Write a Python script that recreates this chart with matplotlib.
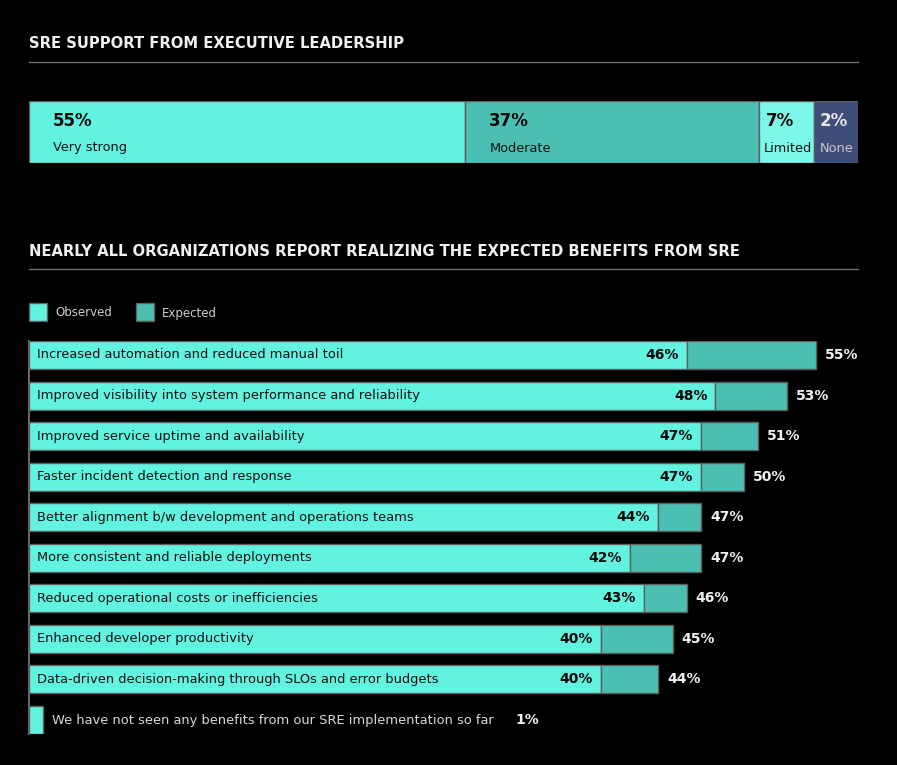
import matplotlib
matplotlib.use("Agg")
import matplotlib.pyplot as plt
from matplotlib.patches import Rectangle

plt.rcParams['font.family'] = ['DejaVu Sans']

# ---------------- data ----------------
support_labels = ["Very strong", "Moderate", "Limited", "None"]
support_values = [55, 37, 7, 2]

benefit_labels = [
    "Increased automation and reduced manual toil",
    "Improved visibility into system performance and reliability",
    "Improved service uptime and availability",
    "Faster incident detection and response",
    "Better alignment b/w development and operations teams",
    "More consistent and reliable deployments",
    "Reduced operational costs or inefficiencies",
    "Enhanced developer productivity",
    "Data-driven decision-making through SLOs and error budgets",
]
observed = [46, 48, 47, 47, 44, 42, 43, 40, 40]
expected = [55, 53, 51, 50, 47, 47, 46, 45, 44]
no_benefit_label = "We have not seen any benefits from our SRE implementation so far"
no_benefit_value = 1

title1 = "SRE SUPPORT FROM EXECUTIVE LEADERSHIP"
title2 = "NEARLY ALL ORGANIZATIONS REPORT REALIZING THE EXPECTED BENEFITS FROM SRE"

# ---------------- style ----------------
W, H = 897, 765
BG = "#000000"
C_OBS = "#62F2E0"
C_EXP = "#4BC0B2"
C_LIM = "#7CF8E8"
C_NONE = "#3E4D79"
EDGE = "#5f5f5f"
TXT = "#f0f0f0"
support_colors = [C_OBS, C_EXP, C_LIM, C_NONE]
support_text = ["#0a0a0a", "#0a0a0a", "#0a0a0a", "#e8e8e8"]
support_sub = ["#111111", "#111111", "#111111", "#c8c8c8"]

fig = plt.figure(figsize=(W / 100, H / 100), dpi=100, facecolor=BG)


def fx(px):
    return px / W


def fy(py):
    return 1 - py / H


# titles & rules
fig.text(fx(29), fy(44), title1, color=TXT, fontsize=10.6, fontweight="bold",
         va="center", ha="left")
fig.add_artist(plt.Line2D([fx(29), fx(858)], [fy(62), fy(62)], color="#707070", lw=1))
fig.text(fx(29), fy(251), title2, color=TXT, fontsize=10.6, fontweight="bold",
         va="center", ha="left")
fig.add_artist(plt.Line2D([fx(29), fx(858)], [fy(269), fy(269)], color="#707070", lw=1))

# ---------------- top stacked bar ----------------
ax1 = fig.add_axes([fx(29), fy(163), fx(858) - fx(29), (163 - 101) / H])
ax1.set_facecolor(BG)
MIN_W = 5.5  # minimum display width so small-segment labels stay legible
disp = [max(v, MIN_W) for v in support_values]
left = 0
for lab, v, d, c, tc, sc in zip(support_labels, support_values, disp,
                                support_colors, support_text, support_sub):
    ax1.barh(0, d, left=left, height=1, color=c, edgecolor=EDGE, linewidth=1)
    pad = 24 if d > 15 else 5
    ax1.annotate(f"{v}%", (left, 0), xytext=(pad + (2 if d > 6 and d <= 15 else 0), 11),
                 textcoords="offset pixels",
                 ha="left", va="center", fontsize=12, fontweight="bold", color=tc)
    ax1.annotate(lab, (left, 0), xytext=(pad, -16), textcoords="offset pixels",
                 ha="left", va="center", fontsize=9.3, color=sc)
    left += d
ax1.set_xlim(0, sum(disp))
ax1.set_ylim(-0.5, 0.5)
ax1.axis("off")

# ---------------- legend ----------------
for x0, lab, c in [(29, "Observed", C_OBS), (136, "Expected", C_EXP)]:
    fig.add_artist(Rectangle((fx(x0), fy(321)), 18 / W, 18 / H, facecolor=c,
                             edgecolor=EDGE, lw=1, transform=fig.transFigure))
    fig.text(fx(x0 + 26), fy(313), lab, color="#cfcfcf", fontsize=8.5,
             va="center", ha="left")

# ---------------- benefits bars ----------------
n = len(benefit_labels)
ax2 = fig.add_axes([fx(29), fy(734), fx(858) - fx(29), (734 - 341) / H])
ax2.set_facecolor(BG)
ys = list(range(n))
bh = 0.69
ax2.barh(ys, observed, height=bh, color=C_OBS, edgecolor=EDGE, linewidth=1, zorder=3)
ax2.barh(ys, [e - o for e, o in zip(expected, observed)], left=observed, height=bh,
         color=C_EXP, edgecolor=EDGE, linewidth=1, zorder=3)
for y, lab, o, e in zip(ys, benefit_labels, observed, expected):
    ax2.annotate(lab, (0, y), xytext=(8, 0), textcoords="offset pixels",
                 ha="left", va="center", fontsize=9.4, color="#111111", zorder=5)
    ax2.annotate(f"{o}%", (o, y), xytext=(-8, 0), textcoords="offset pixels",
                 ha="right", va="center", fontsize=10, fontweight="bold",
                 color="#0a0a0a", zorder=5)
    ax2.annotate(f"{e}%", (e, y), xytext=(9, 0), textcoords="offset pixels",
                 ha="left", va="center", fontsize=10, fontweight="bold",
                 color=TXT, zorder=5)

yl = n
ax2.barh(yl, no_benefit_value, height=bh, color=C_OBS, edgecolor=EDGE,
         linewidth=1, zorder=3)
ax2.annotate(no_benefit_label, (no_benefit_value, yl), xytext=(9, 0),
             textcoords="offset pixels", ha="left", va="center", fontsize=9.4,
             color="#d8d8d8")
ax2.annotate(f"{no_benefit_value}%", (no_benefit_value, yl), xytext=(472, 0),
             textcoords="offset pixels", ha="left", va="center", fontsize=10,
             fontweight="bold", color=TXT)

ax2.set_xlim(0, 829 / 14.3)
ax2.set_ylim(n + bh / 2, -bh / 2)
for s in ["top", "right", "bottom"]:
    ax2.spines[s].set_visible(False)
ax2.spines["left"].set_color("#666666")
ax2.spines["left"].set_linewidth(1.5)
ax2.set_xticks([])
ax2.set_yticks([])

fig.savefig("out.png", dpi=100, facecolor=BG)
